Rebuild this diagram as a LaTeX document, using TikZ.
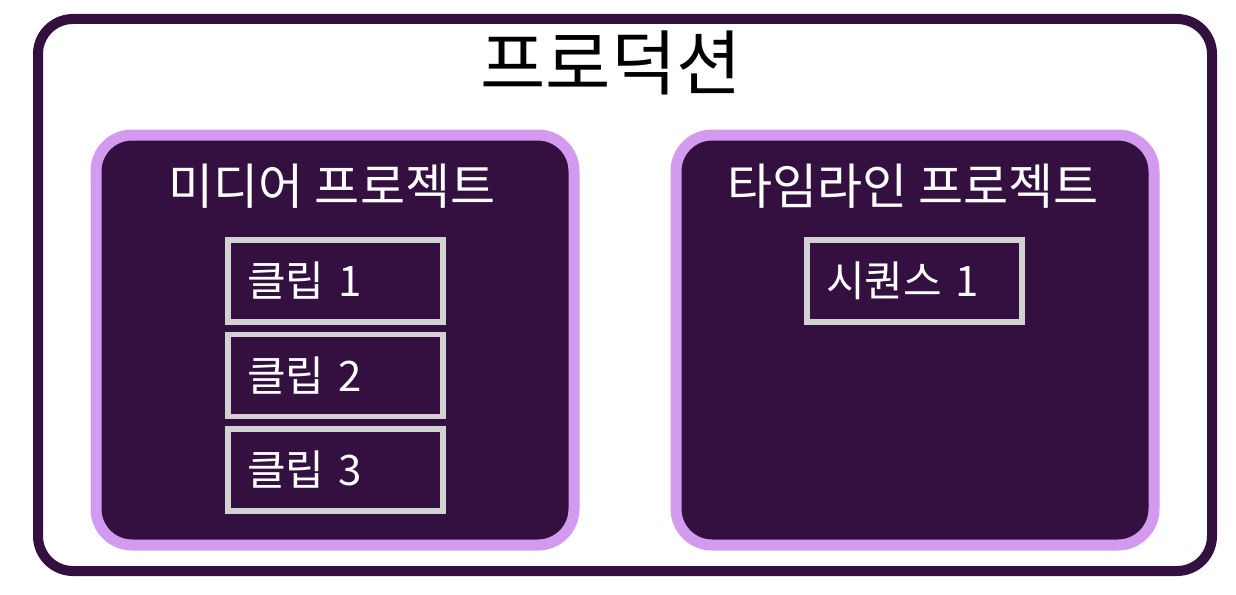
\documentclass[tikz,border=0pt]{standalone}
\usepackage{fontspec}
\usepackage{tikz}
\usetikzlibrary{positioning}
\newfontfamily\kor{Noto Sans CJK KR}
\definecolor{prodline}{RGB}{51,16,64}
\definecolor{projfill}{RGB}{51,16,64}
\definecolor{projline}{RGB}{210,155,240}
\definecolor{itemline}{RGB}{210,210,210}
\tikzset{
	prodbox/.style={draw=prodline, fill=white, line width=10pt, rounded corners=35pt, minimum width=1174pt, minimum height=552pt},
	projbox/.style={draw=projline, fill=projfill, line width=11pt, rounded corners=36pt, minimum width=478pt, minimum height=410pt},
	itembox/.style={draw=itemline, line width=5.5pt, minimum width=215pt, minimum height=82pt, inner xsep=19pt, text width=177pt, align=left, text=white, font=\kor\fontsize{42}{48}\selectfont},
	projtitle/.style={text=white, font=\kor\fontsize{49}{56}\selectfont},
	prodtitle/.style={text=black, font=\kor\fontsize{71}{78}\selectfont}
}

\begin{document}
\begin{tikzpicture}[x=1pt, y=-1pt]
		\useasboundingbox (0,0) rectangle (1236,594);
		\node[prodbox] (prod) at (625,295) {};
		\node[prodtitle] (prodname) at (611,63) {프로덕션};
		\node[projbox] (media) at (335,340) {};
		\node[projbox, right=91pt of media] (timeline) {};
		\node[projtitle] (medianame) at (332,186) {미디어 프로젝트};
		\node[projtitle] (timelinename) at (913,186) {타임라인 프로젝트};
		% clips in the media project
		\node[itembox] (clip1) at (335.5,281) {클립 1};
		\node[itembox, below=7pt of clip1] (clip2) {클립 2};
		\node[itembox, below=7pt of clip2] (clip3) {클립 3};
		% sequence in the timeline project
		\node[itembox] (seq1) at (914.5,281) {시퀀스 1};
	\end{tikzpicture}
\end{document}
